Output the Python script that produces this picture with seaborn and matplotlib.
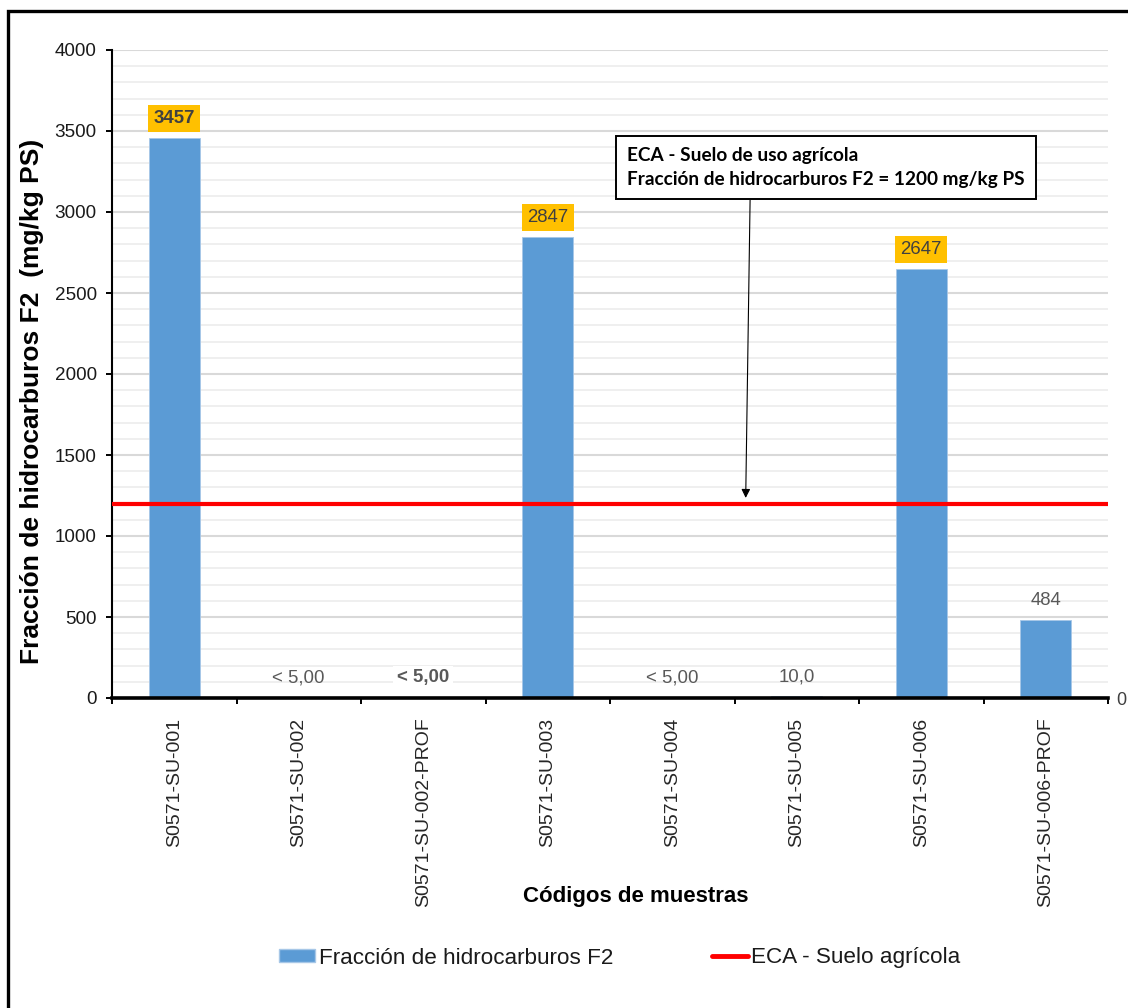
import matplotlib
matplotlib.use("Agg")
import matplotlib.pyplot as plt
from matplotlib.ticker import MultipleLocator, FixedLocator
from matplotlib.lines import Line2D
from matplotlib.patches import Patch, Rectangle
import seaborn as sns
import pandas as pd

# --- data -------------------------------------------------------------
samples = ["S0571-SU-001", "S0571-SU-002", "S0571-SU-002-PROF", "S0571-SU-003",
           "S0571-SU-004", "S0571-SU-005", "S0571-SU-006", "S0571-SU-006-PROF"]
f2_values = [3457, 5.0, 5.0, 2847, 5.0, 10.0, 2647, 484]
below_detection = [False, True, True, False, True, False, False, False]
bold_labels = [True, False, True, False, False, False, False, False]
eca_limit = 1200
y_ticks = [0, 500, 1000, 1500, 2000, 2500, 3000, 3500, 4000]

series_name = "Fracción de hidrocarburos F2"
limit_name = "ECA - Suelo agrícola"
note_lines = ["ECA - Suelo de uso agrícola",
              "Fracción de hidrocarburos F2 = 1200 mg/kg PS"]


def fmt_value(v, below):
    if below:
        return "< " + f"{v:.2f}".replace(".", ",")
    if v < 100:
        return f"{v:.1f}".replace(".", ",")
    return f"{v:.0f}"


df = pd.DataFrame({"muestra": samples, "F2": f2_values})

# --- figure -----------------------------------------------------------
sns.set_style("white")
plt.rcParams["font.family"] = ["Liberation Sans", "DejaVu Sans"]

W, H = 1128, 1008
fig = plt.figure(figsize=(W / 100, H / 100), dpi=100)
ax = fig.add_axes([112 / W, 1 - 698 / H, (1108 - 112) / W, (698 - 50) / H])

bar_color = "#5B9BD5"
sns.barplot(data=df, x="muestra", y="F2", color=bar_color, width=0.41,
            saturation=1, edgecolor="#A7C7E7", linewidth=0.6, ax=ax, zorder=2)

ax.set_xlim(-0.5, len(samples) - 0.5)
ax.set_ylim(0, 4000)
ax.yaxis.set_major_locator(FixedLocator(y_ticks))
ax.yaxis.set_minor_locator(MultipleLocator(100))
ax.grid(axis="y", which="minor", color="#EFEFEF", lw=1.4, zorder=0)
ax.grid(axis="y", which="major", color="#D9D9D9", lw=1.5, zorder=0)
ax.grid(axis="x", visible=False)
ax.set_axisbelow(True)

# limit line
ax.axhline(eca_limit, color="#FF0000", lw=3, zorder=3)

# spines and ticks
for s in ("top", "right"):
    ax.spines[s].set_visible(False)
ax.spines["left"].set_linewidth(1.5)
ax.spines["left"].set_color("black")
ax.spines["bottom"].set_linewidth(2.6)
ax.spines["bottom"].set_color("black")
ax.spines["bottom"].set_zorder(4)

ax.tick_params(axis="y", which="major", direction="out", length=4, width=1.4,
               color="black", labelsize=13.6, labelcolor="#1a1a1a", pad=7, left=True)
ax.tick_params(axis="y", which="minor", length=0)
ax.set_xticks(range(len(samples)))
ax.set_xticklabels(samples, rotation=90, fontsize=14, color="#262626")
ax.tick_params(axis="x", which="major", length=0, pad=14)
ax.xaxis.set_minor_locator(FixedLocator([i - 0.5 for i in range(len(samples) + 1)]))
ax.tick_params(axis="x", which="minor", direction="out", length=4, width=1.4,
               color="black", bottom=True)

ax.set_xlabel("Códigos de muestras", fontsize=16, fontweight="bold", color="black")
ax.xaxis.set_label_coords((636 - 112) / (1108 - 112), -(886 - 698) / (698 - 50))
ax.set_ylabel("Fracción de hidrocarburos F2  (mg/kg PS)", fontsize=19,
              fontweight="bold", color="black")
ax.yaxis.set_label_coords((44 - 112) / (1108 - 112), (698 - 401) / (698 - 50))

# value labels
for i, (v, below, bold) in enumerate(zip(f2_values, below_detection, bold_labels)):
    txt = fmt_value(v, below)
    kw = dict(ha="center", va="center", fontsize=13.4,
              fontweight="bold" if bold else "normal", zorder=5)
    if v > eca_limit:
        kw["color"] = "#404040"
        kw["bbox"] = dict(boxstyle="square,pad=0.28", fc="#FFC000", ec="none")
    else:
        kw["color"] = "#595959"
        if bold:
            kw["bbox"] = dict(boxstyle="square,pad=0.2", fc="white", ec="none")
    ax.annotate(txt, xy=(i, v), xytext=(0, 14), textcoords="offset points", **kw)

# limit note with arrow
ax.annotate("\n".join(note_lines), xy=(4.59, eca_limit + 35),
            xytext=(627, H - 147), textcoords="figure pixels",
            ha="left", va="top", fontsize=13.7, fontweight="bold",
            family=["Lato", "DejaVu Sans"], color="black", linespacing=1.5,
            bbox=dict(boxstyle="square,pad=0.6", fc="white", ec="black", lw=1.4),
            arrowprops=dict(arrowstyle="-|>", color="black", lw=0.8,
                            mutation_scale=13, relpos=(0.31, 0.0),
                            shrinkA=0, shrinkB=0),
            zorder=6)

# secondary axis (only its zero tick is shown)
ax2 = ax.twinx()
ax2.set_ylim(0, 1)
ax2.set_yticks([0])
ax2.tick_params(axis="y", length=0, pad=6, labelsize=13, labelcolor="#404040")
for s in ax2.spines.values():
    s.set_visible(False)
ax2.grid(False)

# legend
handles = [Patch(facecolor=bar_color, edgecolor="#A7C7E7", label=series_name),
           Line2D([0], [0], color="#FF0000", lw=3.5, label=limit_name)]
fig.legend(handles=handles, loc="center", bbox_to_anchor=(620 / W, 1 - 958 / H),
           ncol=2, frameon=False, fontsize=16.2, handlelength=1.6,
           handleheight=0.5, handletextpad=0.15, columnspacing=4.4,
           labelcolor="#1a1a1a")

# outer frame
fig.patches.append(Rectangle((8 / W, -0.2), 1.5, 1.2 - 11 / H,
                             transform=fig.transFigure, fill=False,
                             ec="black", lw=2.4))

fig.savefig("out.png", dpi=100)
